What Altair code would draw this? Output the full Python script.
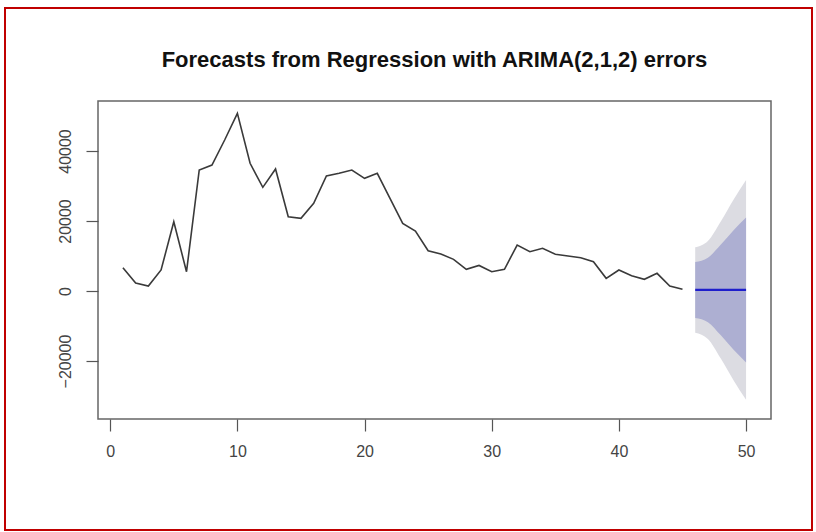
import altair as alt
import pandas as pd

# Observed series, periods 1..45
periods = list(range(1, 46))
observed = [6660, 2290, 1430, 6000, 19800, 5500, 34570, 36000, 43140, 50770,
            36480, 29620, 34860, 21230, 20770, 25060, 32860, 33620, 34570, 32200,
            33620, 26480, 19340, 17140, 11520, 10570, 9050, 6190, 7300, 5520,
            6190, 13140, 11240, 12190, 10480, 10000, 9520, 8380, 3620, 6000,
            4380, 3330, 5050, 1430, 480]

# Forecast horizon 46..50 with 80% and 95% prediction intervals
fc_periods = [46, 47, 48, 49, 50]
fc_mean = [300, 300, 300, 300, 300]
lo80 = [-7700, -8900, -12600, -16700, -20400]
hi80 = [8300, 9500, 13200, 17300, 21000]
lo95 = [-11900, -13700, -19200, -25400, -31100]
hi95 = [12500, 14300, 19800, 26000, 31700]

x_ticks = [0, 10, 20, 30, 40, 50]
y_ticks = [-20000, 0, 20000, 40000]

title_text = "Forecasts from Regression with ARIMA(2,1,2) errors"

hist_df = pd.DataFrame({"t": periods, "value": observed})
fc_df = pd.DataFrame({"t": fc_periods, "mean": fc_mean,
                      "lo80": lo80, "hi80": hi80, "lo95": lo95, "hi95": hi95})

x_scale = alt.Scale(domain=[-0.96, 51.96], nice=False, zero=False)
y_scale = alt.Scale(domain=[-36571, 54286], nice=False, zero=False)

axis_common = dict(domain=False, grid=False, tickColor="#555", tickWidth=1.2,
                   tickSize=12, labelColor="#444", labelFont="Liberation Sans",
                   labelFontSize=16, title=None)

x_enc = alt.X("t:Q", scale=x_scale,
              axis=alt.Axis(values=x_ticks, labelPadding=12, **axis_common))
y_axis = alt.Axis(values=y_ticks, labelAngle=270, labelPadding=13,
                  labelAlign="center", labelBaseline="bottom", format="d",
                  **axis_common)

band95 = alt.Chart(fc_df).mark_area(color="#DCDCE2", opacity=1,
                                    interpolate="monotone").encode(
    x=x_enc, y=alt.Y("lo95:Q", scale=y_scale, axis=y_axis), y2="hi95:Q")

band80 = alt.Chart(fc_df).mark_area(color="#ADAFD2", opacity=1,
                                    interpolate="monotone").encode(
    x="t:Q", y="lo80:Q", y2="hi80:Q")

fc_line = alt.Chart(fc_df).mark_line(color="#1E1ECC", strokeWidth=2.2).encode(
    x="t:Q", y="mean:Q")

hist_line = alt.Chart(hist_df).mark_line(color="#3a3a3a", strokeWidth=1.6).encode(
    x="t:Q", y="value:Q")

# Chart title, centred over the plot area
title = alt.Chart(hist_df.head(1)).mark_text(
    text=title_text, font="Liberation Sans", fontSize=22, fontWeight="bold",
    color="#111", align="center", baseline="middle").encode(
    x=alt.value(336.5), y=alt.value(-41))

# Red outer frame around the figure
frame = alt.Chart(hist_df.head(1)).mark_rect(
    fill=None, stroke="#C00000", strokeWidth=2, clip=False).encode(
    x=alt.value(-93), x2=alt.value(714), y=alt.value(-93), y2=alt.value(429))

chart = alt.layer(band95, band80, fc_line, hist_line, title, frame).properties(
    width=673, height=318,
    padding={"left": 98, "top": 101, "right": 45, "bottom": 113},
    autosize=alt.AutoSizeParams(type="none"),
    background="white",
).configure_view(stroke="#666", strokeWidth=1.5)

chart.save("out.html", embed_options={"renderer": "svg", "actions": False})
